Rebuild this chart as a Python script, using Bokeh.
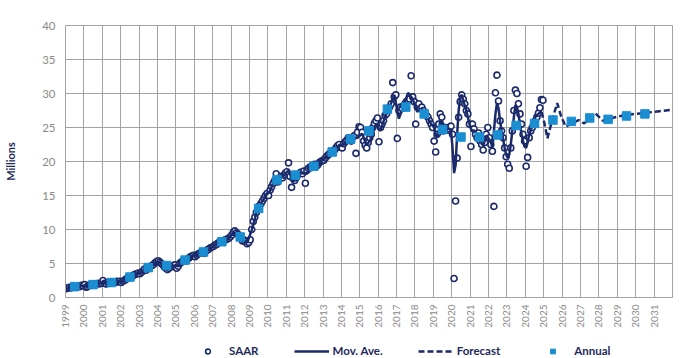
from math import pi
from bokeh.plotting import figure
from bokeh.layouts import column
from bokeh.models import FixedTicker, Legend, LegendItem
from bokeh.embed import file_html
from bokeh.resources import INLINE

# ---------------- data ----------------
axis_years = list(range(1999, 2032))

saar_start_year = 1999
# monthly SAAR (millions), Jan 1999 .. Dec 2024
saar = [
    1.3, 1.4, 1.5, 1.4, 1.5, 1.6, 1.5, 1.6, 1.7, 1.6, 1.8, 1.7,          # 1999
    1.9, 1.5, 1.6, 1.8, 1.9, 1.8, 2.0, 1.9, 2.0, 2.1, 2.0, 2.1,          # 2000
    2.5, 2.1, 2.0, 2.2, 2.1, 2.3, 2.2, 2.3, 2.2, 2.4, 2.3, 2.4,          # 2001
    2.2, 2.4, 2.5, 2.7, 2.8, 2.9, 3.0, 3.1, 3.3, 3.4, 3.5, 3.6,          # 2002
    3.5, 3.7, 3.9, 4.2, 4.0, 4.3, 4.4, 4.6, 4.7, 4.9, 5.1, 5.3,          # 2003
    5.4, 5.2, 5.0, 4.8, 4.5, 4.3, 4.1, 4.3, 4.5, 4.6, 4.7, 4.8,          # 2004
    4.3, 4.6, 5.0, 5.2, 5.3, 5.5, 5.4, 5.6, 5.8, 6.0, 6.1, 6.2,          # 2005
    6.0, 6.2, 6.4, 6.5, 6.6, 6.7, 6.5, 6.8, 7.0, 7.1, 7.3, 7.4,          # 2006
    7.5, 7.7, 7.8, 8.0, 8.1, 8.3, 8.2, 8.4, 8.5, 8.6, 8.7, 8.9,          # 2007
    9.2, 9.6, 9.8, 9.5, 9.3, 9.0, 8.7, 8.3, 8.5, 8.2, 7.9, 8.1,          # 2008
    8.5, 10.0, 11.2, 11.8, 12.5, 13.0, 13.5, 13.8, 14.2, 14.6, 15.0, 15.3,  # 2009
    15.0, 15.8, 16.3, 16.8, 17.2, 18.2, 17.0, 17.4, 17.8, 17.6, 18.0, 18.3,  # 2010
    18.5, 19.8, 17.8, 16.2, 17.5, 17.2, 17.6, 18.0, 18.2, 18.4, 18.2, 18.6,  # 2011
    16.8, 18.7, 19.0, 19.2, 19.1, 19.4, 19.6, 19.3, 19.5, 19.8, 20.0, 20.1,  # 2012
    20.2, 20.5, 20.8, 21.0, 21.2, 21.5, 21.4, 21.7, 22.0, 22.3, 22.5, 22.1,  # 2013
    22.0, 22.6, 22.9, 23.1, 23.5, 23.3, 23.0, 23.6, 23.8, 21.2, 24.3, 25.1,  # 2014
    25.0, 24.3, 23.0, 22.4, 22.0, 22.8, 23.5, 24.0, 25.0, 25.6, 26.0, 26.4,  # 2015
    22.9, 25.0, 25.5, 26.0, 26.8, 27.0, 27.5, 28.0, 28.5, 31.6, 29.5, 29.8,  # 2016
    23.4, 27.5, 28.0, 27.8, 28.2, 28.5, 28.8, 29.0, 29.2, 32.6, 29.5, 28.8,  # 2017
    25.5, 28.0, 28.5, 27.8, 28.0, 27.5, 27.0, 26.8, 26.5, 26.0, 25.5, 25.0,  # 2018
    23.0, 21.4, 24.0, 25.5, 27.0, 26.5, 24.5, 24.8, 25.0, 24.6, 24.8, 25.2,  # 2019
    24.0, 2.8, 14.2, 20.5, 26.5, 28.8, 29.8, 29.2, 28.5, 27.5, 27.0, 25.5,   # 2020
    22.2, 25.5, 24.8, 24.0, 23.5, 24.2, 23.0, 22.5, 21.7, 22.8, 24.0, 25.0,  # 2021
    23.5, 22.5, 21.5, 13.4, 30.1, 32.7, 28.9, 26.0, 24.5, 23.5, 22.0, 20.7,  # 2022
    19.6, 19.0, 22.0, 24.5, 27.5, 30.5, 30.0, 28.5, 27.0, 25.5, 24.0, 23.0,  # 2023
    19.3, 20.6, 23.5, 24.5, 25.0, 25.5, 26.0, 26.5, 27.1, 27.9, 29.1, 29.0,  # 2024
]

# moving average: quarterly 1999Q1..2018Q4, then monthly Jan 2019..Nov 2024
mov_ave_quarterly = [
    1.4, 1.5, 1.6, 1.7,   1.7, 1.8, 1.95, 2.05,   2.2, 2.2, 2.25, 2.35,
    2.35, 2.8, 3.1, 3.5,  3.7, 4.15, 4.55, 5.1,  5.2, 4.55, 4.3, 4.7,
    4.6, 5.3, 5.6, 6.1,   6.2, 6.6, 6.8, 7.25,   7.65, 8.1, 8.4, 8.7,
    9.5, 9.3, 8.5, 8.05,  9.9, 12.4, 13.8, 14.9, 15.7, 17.4, 17.4, 18.0,
    18.7, 17.0, 17.9, 18.4, 18.2, 19.2, 19.5, 20.0, 20.5, 21.2, 21.7, 22.3,
    22.5, 23.3, 23.5, 23.5, 24.1, 22.4, 23.4, 25.5, 24.5, 26.6, 28.0, 29.8,
    26.3, 28.2, 30.1, 29.2, 27.3, 27.8, 26.8, 25.5,
]
mov_ave_monthly = [
    25.0, 24.0, 23.5, 24.5, 26.0, 26.0, 25.5, 24.8, 24.8, 24.8, 24.8, 24.5,  # 2019
    22.0, 18.3, 19.5, 24.0, 27.5, 29.5, 29.8, 29.0, 28.2, 27.5, 26.5, 25.6,  # 2020
    24.8, 24.4, 24.6, 24.3, 24.0, 23.8, 23.2, 22.6, 22.4, 23.0, 23.8, 23.6,  # 2021
    23.2, 22.9, 22.0, 24.5, 27.0, 28.6, 27.8, 26.0, 24.5, 23.3, 22.0, 21.0,  # 2022
    20.5, 21.0, 22.5, 24.5, 26.5, 28.3, 28.0, 27.0, 25.5, 24.0, 23.0, 22.2,  # 2023
    22.0, 22.8, 24.0, 24.6, 25.2, 26.1, 26.5, 26.8, 27.0, 27.2, 27.3,        # 2024
]

forecast_dates = [2024.875, 2025.04, 2025.2, 2025.45, 2025.73, 2025.95, 2026.2, 2026.5,
                  2026.9, 2027.2, 2027.5, 2027.8, 2028.2, 2028.6, 2029.0, 2029.5,
                  2030.0, 2030.7, 2031.3, 2032.0]
forecast_values = [27.3, 25.6, 23.4, 26.0, 28.6, 26.6, 25.1, 25.6,
                   26.1, 25.6, 26.3, 27.1, 26.0, 26.3, 26.6, 26.85,
                   27.0, 27.2, 27.4, 27.6]

annual_years = list(range(1999, 2031))
annual_values = [1.6, 1.9, 2.2, 3.0, 4.4, 4.7, 5.5, 6.7, 8.2, 8.9,
                 13.1, 17.3, 18.0, 19.3, 21.4, 23.3, 24.5, 27.7, 28.0, 27.0,
                 24.7, 23.6, 23.6, 23.9, 25.3, 25.6, 26.1, 25.9, 26.4, 26.2,
                 26.7, 27.0]

legend_labels = ["SAAR", "Mov. Ave.", "Forecast", "Annual"]

# ---------------- derived date positions ----------------
saar_t = [saar_start_year + (i + 0.5) / 12 for i in range(len(saar))]
mq_t = [1999 + (i + 0.5) / 4 for i in range(len(mov_ave_quarterly))]
mm_t = [2019 + (i + 0.5) / 12 for i in range(len(mov_ave_monthly))]
mov_t = mq_t + mm_t
mov_v = mov_ave_quarterly + mov_ave_monthly
annual_t = [y + 0.5 for y in annual_years]

NAVY = "#1b2a6b"
BLUE = "#1b8ed2"
GRID = "#a3a3a3"
FONT = "Lato"

SAAR_STYLE = dict(marker="circle", size=6, fill_color="white", line_color=NAVY, line_width=1.6)
MOV_STYLE = dict(line_color=NAVY, line_width=2.5)
FC_STYLE = dict(line_color=NAVY, line_width=2.5, line_dash="6 3")
ANN_STYLE = dict(marker="square", size=8.5, fill_color=BLUE, line_color=BLUE)

p = figure(width=681, height=333, output_backend="svg", toolbar_location=None,
           x_range=(1999, 2032), y_range=(0, 40),
           min_border_left=65, min_border_right=9, min_border_top=25, min_border_bottom=36)

p.outline_line_color = GRID
p.background_fill_color = "white"
p.border_fill_color = "white"

p.xaxis.ticker = FixedTicker(ticks=axis_years)
p.yaxis.ticker = FixedTicker(ticks=list(range(0, 41, 5)))
p.xgrid.ticker = FixedTicker(ticks=axis_years + [2032])
p.xaxis.major_label_orientation = pi / 2
p.xaxis.major_label_standoff = 7
p.yaxis.major_label_standoff = 10
for ax in (p.xaxis[0], p.yaxis[0]):
    ax.major_tick_out = 0
    ax.major_tick_in = 0
    ax.minor_tick_out = 0
    ax.minor_tick_in = 0
    ax.axis_line_color = GRID
    ax.major_label_text_color = "#8a8a8a"
    ax.major_label_text_font = FONT
p.xaxis.major_label_text_font_size = "10px"
p.yaxis.major_label_text_font_size = "11.5px"
p.yaxis.axis_label = "Millions"
p.yaxis.axis_label_text_font = FONT
p.yaxis.axis_label_text_font_style = "bold"
p.yaxis.axis_label_text_font_size = "11px"
p.yaxis.axis_label_text_color = "#1f2a5c"
p.yaxis.axis_label_standoff = 22

p.xgrid.grid_line_color = GRID
p.ygrid.grid_line_color = GRID
p.xgrid.grid_line_width = 1
p.ygrid.grid_line_width = 1

p.scatter(saar_t, saar, **SAAR_STYLE)
p.line(mov_t, mov_v, **MOV_STYLE)
p.line(forecast_dates, forecast_values, **FC_STYLE)
p.scatter(annual_t, annual_values, **ANN_STYLE)

# ---------------- legend strip (separate figure, no axes) ----------------
lg = figure(width=681, height=25, output_backend="svg", toolbar_location=None,
            x_range=(0, 1), y_range=(0, 1), min_border=0,
            x_axis_location=None, y_axis_location=None)
lg.outline_line_color = None
lg.grid.visible = False
nan = float("nan")
lr1 = lg.scatter([nan], [nan], **SAAR_STYLE)
lr2 = lg.line([nan], [nan], **MOV_STYLE)
lr3 = lg.line([nan], [nan], **FC_STYLE)
lr4 = lg.scatter([nan], [nan], **ANN_STYLE)

legend = Legend(items=[LegendItem(label=lab, renderers=[r])
                       for lab, r in zip(legend_labels, [lr1, lr2, lr3, lr4])],
                orientation="horizontal", location=(125, 1))
legend.glyph_width = 35
legend.glyph_height = 12
legend.label_standoff = 4
legend.spacing = 35
legend.padding = 0
legend.margin = 0
legend.border_line_color = None
legend.background_fill_alpha = 0
legend.label_text_font = FONT
legend.label_text_font_style = "bold"
legend.label_text_font_size = "11.5px"
legend.label_text_color = "#1f2a5c"
legend.label_height = 12
lg.add_layout(legend)

layout = column(p, lg, spacing=0)
open("out.html", "w").write(file_html(layout, INLINE))
